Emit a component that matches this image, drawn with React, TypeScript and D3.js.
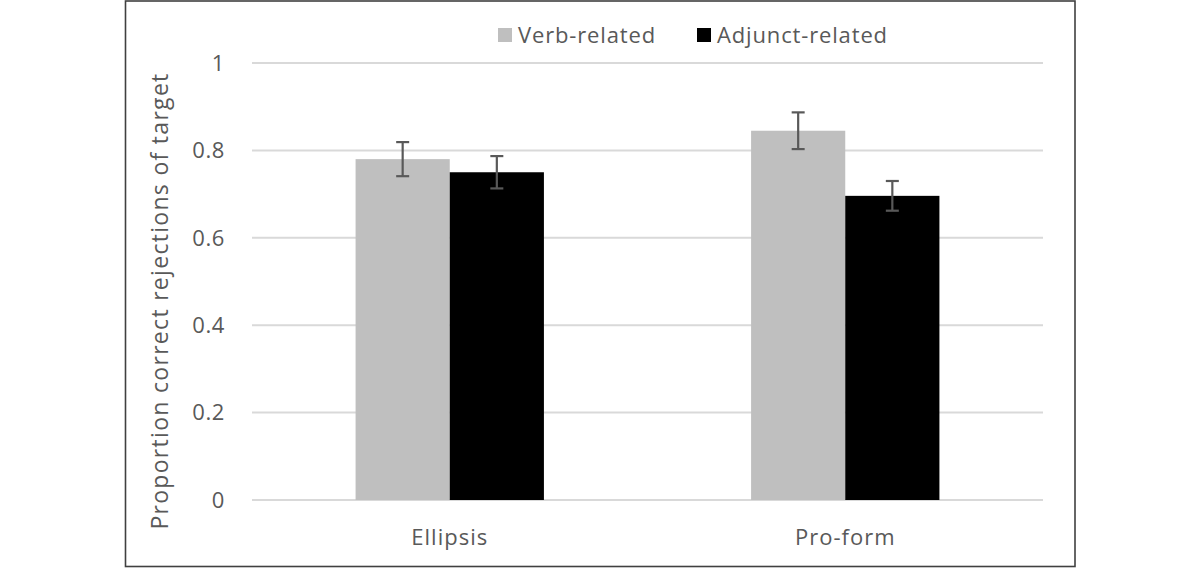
import React, { useEffect, useRef } from 'react'
import * as d3 from 'd3'

const categories = ['Ellipsis', 'Pro-form']
const seriesNames = ['Verb-related', 'Adjunct-related']
const seriesColors = ['#bfbfbf', '#000000']
const verbValues = [0.78, 0.845]
const adjunctValues = [0.75, 0.696]
const verbErrors = [0.039, 0.042]
const adjunctErrors = [0.037, 0.034]
const yTicks = [0, 0.2, 0.4, 0.6, 0.8, 1]

const FONT = '"Open Sans", "Noto Sans", sans-serif'

export default function App() {
  const ref = useRef<SVGSVGElement | null>(null)

  useEffect(() => {
    document.body.style.margin = '0'
    if (!ref.current) return
    const svg = d3.select(ref.current)
    svg.selectAll('*').remove()

    const width = 1200, height = 568
    const margin = { top: 63, right: 157, bottom: 68, left: 252 }
    const innerW = width - margin.left - margin.right
    const innerH = height - margin.top - margin.bottom

    svg.attr('width', width).attr('height', height).attr('viewBox', `0 0 ${width} ${height}`)
      .style('display', 'block').style('background', '#fff')

    // outer frame
    svg.append('rect').attr('x', 125.5).attr('y', 1).attr('width', 949.5).attr('height', 565.5)
      .attr('fill', 'none').attr('stroke', '#404040').attr('stroke-width', 1.6)

    const g = svg.append('g').attr('transform', `translate(${margin.left},${margin.top})`)

    const x = d3.scaleBand().domain(categories).range([0, innerW])
    const y = d3.scaleLinear().domain([0, 1]).range([innerH, 0])
    const barW = x.bandwidth() / (2 + 2.2)
    const x1 = d3.scaleBand().domain(seriesNames).range([0, barW * 2])

    // gridlines
    g.append('g').selectAll('line').data(yTicks).enter().append('line')
      .attr('x1', 0).attr('x2', innerW)
      .attr('y1', d => y(d)).attr('y2', d => y(d))
      .attr('stroke', '#d9d9d9').attr('stroke-width', 2)

    // y tick labels
    g.append('g').selectAll('text').data(yTicks).enter().append('text')
      .attr('x', -27).attr('y', d => y(d)).attr('dy', '0.35em')
      .attr('text-anchor', 'end').attr('font-family', FONT).attr('font-size', 22)
      .attr('letter-spacing', 0.6)
      .attr('fill', '#595959').text(d => d3.format('~g')(d))

    const data = [
      { name: seriesNames[0], values: verbValues, errors: verbErrors, color: seriesColors[0] },
      { name: seriesNames[1], values: adjunctValues, errors: adjunctErrors, color: seriesColors[1] },
    ]

    data.forEach(s => {
      const rows = categories.map((c, i) => ({ c, v: s.values[i], e: s.errors[i] }))
      const sg = g.append('g')
      sg.selectAll('rect').data(rows).enter().append('rect')
        .attr('x', d => x(d.c)! + (x.bandwidth() - barW * 2) / 2 + x1(s.name)!)
        .attr('y', d => y(d.v))
        .attr('width', barW)
        .attr('height', d => innerH - y(d.v))
        .attr('fill', s.color)
      const cx = (d: any) => x(d.c)! + (x.bandwidth() - barW * 2) / 2 + x1(s.name)! + barW / 2
      const eg = sg.selectAll('g.err').data(rows).enter().append('g')
        .attr('stroke', '#595959').attr('stroke-width', 2.2)
      eg.append('line').attr('x1', cx).attr('x2', cx)
        .attr('y1', d => y(d.v + d.e)).attr('y2', d => y(d.v - d.e))
      eg.append('line').attr('x1', d => cx(d) - 6.5).attr('x2', d => cx(d) + 6.5)
        .attr('y1', d => y(d.v + d.e)).attr('y2', d => y(d.v + d.e))
      eg.append('line').attr('x1', d => cx(d) - 6.5).attr('x2', d => cx(d) + 6.5)
        .attr('y1', d => y(d.v - d.e)).attr('y2', d => y(d.v - d.e))
    })

    // x category labels
    g.append('g').selectAll('text').data(categories).enter().append('text')
      .attr('x', d => x(d)! + x.bandwidth() / 2).attr('y', innerH + 45)
      .attr('text-anchor', 'middle').attr('font-family', FONT).attr('font-size', 22)
      .attr('letter-spacing', 1)
      .attr('fill', '#595959').text(d => d)

    // y axis title
    svg.append('text')
      .attr('transform', `translate(168,301) rotate(-90)`)
      .attr('text-anchor', 'middle').attr('font-family', FONT).attr('font-size', 23)
      .attr('letter-spacing', 1.3)
      .attr('fill', '#595959').text('Proportion correct rejections of target')

    // legend
    const legendX = [498, 697]
    const lg = svg.append('g')
    seriesNames.forEach((n, i) => {
      lg.append('rect').attr('x', legendX[i]).attr('y', 28).attr('width', 14).attr('height', 14)
        .attr('fill', seriesColors[i])
      lg.append('text').attr('x', legendX[i] + 20).attr('y', 35).attr('dy', '0.35em')
        .attr('font-family', FONT).attr('font-size', 22).attr('letter-spacing', 0.85)
        .attr('fill', '#595959').text(n)
    })
  }, [])

  return <svg ref={ref} />
}
